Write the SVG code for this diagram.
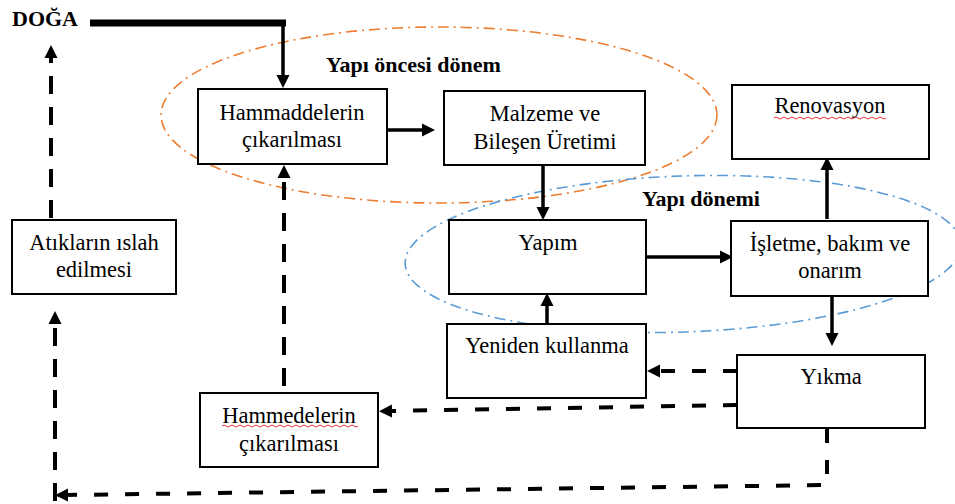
<svg xmlns="http://www.w3.org/2000/svg" width="955" height="504" viewBox="0 0 955 504">
<defs>
<style>
.box{fill:#fff;stroke:#000;stroke-width:2}
.t{font-family:'Liberation Serif','Times New Roman','DejaVu Serif',serif;font-size:22.5px;fill:#000;text-anchor:middle}
.b{font-family:'Liberation Serif','Times New Roman','DejaVu Serif',serif;font-size:22px;font-weight:bold;fill:#000}
.sol{fill:none;stroke:#000;stroke-width:3.5}
.dh{fill:none;stroke:#000;stroke-width:4;stroke-dasharray:14 17}
.dv{fill:none;stroke:#000;stroke-width:4;stroke-dasharray:18 13}
.eo{fill:none;stroke:#ED7D31;stroke-width:1.6;stroke-dasharray:11 5 2 5}
.eb{fill:none;stroke:#5B9BD5;stroke-width:1.6;stroke-dasharray:11 5 2 5}
.wave{fill:none;stroke:#e03030;stroke-width:1}
</style>
<marker id="ah" markerUnits="userSpaceOnUse" viewBox="0 0 14 14" markerWidth="14" markerHeight="14" refX="2" refY="7" orient="auto">
<path d="M0,0.5 L13,7 L0,13.5 Z" fill="#000"/>
</marker>
</defs>
<rect width="955" height="504" fill="#fff"/>

<g id="regions">
<ellipse class="eo" cx="439" cy="115" rx="278" ry="88"/>
<ellipse class="eb" cx="683" cy="254" rx="278" ry="78" transform="rotate(-2 683 254)"/>
<text class="b" x="326" y="72">Yapı öncesi dönem</text>
<text class="b" x="642" y="206">Yapı dönemi</text>
</g>

<g id="connectors">
<path d="M90,23 H286" stroke="#000" stroke-width="7" fill="none"/>
<path class="sol" d="M283,20 V77" marker-end="url(#ah)"/>
<path class="sol" d="M351,130 H424" marker-end="url(#ah)"/>
<path class="sol" d="M543,160 V209" marker-end="url(#ah)"/>
<path class="sol" d="M647,257 H722" marker-end="url(#ah)"/>
<path class="sol" d="M827,219 V168" marker-end="url(#ah)"/>
<path class="sol" d="M832,284 V335" marker-end="url(#ah)"/>
<path class="sol" d="M547,324 V304" marker-end="url(#ah)"/>
<path class="dh" d="M737,371 H658" marker-end="url(#ah)"/>
<path class="dh" d="M737,405 L390,411" marker-end="url(#ah)"/>
<path class="dv" d="M284,386 V176" marker-end="url(#ah)"/>
<path class="dh" d="M827,429 V485 L66,495" marker-end="url(#ah)"/>
<path class="dv" d="M55,501 V322" marker-end="url(#ah)"/>
<path class="dv" d="M51,218 V56" marker-end="url(#ah)"/>
</g>

<g id="doga">
<text class="b" x="12" y="26">DOĞA</text>
</g>

<g id="hammaddelerin">
<rect class="box" x="198" y="89" width="189" height="75"/>
<text class="t" x="292" y="120">Hammaddelerin</text>
<text class="t" x="292" y="147">çıkarılması</text>
</g>

<g id="malzeme">
<rect class="box" x="444" y="91" width="201" height="74"/>
<text class="t" x="545" y="121">Malzeme ve</text>
<text class="t" x="545" y="149">Bileşen Üretimi</text>
</g>

<g id="renovasyon">
<rect class="box" x="732" y="85" width="197" height="74"/>
<text class="t" x="830" y="113">Renovasyon</text>
<path class="wave" d="M774,118 q2,-2 4,0 t4,0 t4,0 t4,0 t4,0 t4,0 t4,0 t4,0 t4,0 t4,0 t4,0 t4,0 t4,0 t4,0 t4,0 t4,0 t4,0 t4,0 t4,0 t4,0 t4,0 t4,0 t4,0 t4,0 t4,0 t4,0 t4,0 t4,0"/>
</g>

<g id="yapim">
<rect class="box" x="449" y="220" width="197" height="74"/>
<text class="t" x="548" y="250">Yapım</text>
</g>

<g id="isletme">
<rect class="box" x="731" y="221" width="197" height="75"/>
<text class="t" x="830" y="251">İşletme, bakım ve</text>
<text class="t" x="830" y="278">onarım</text>
</g>

<g id="atiklar">
<rect class="box" x="12" y="220" width="164" height="74"/>
<text class="t" x="94" y="250">Atıkların ıslah</text>
<text class="t" x="94" y="277">edilmesi</text>
</g>

<g id="yeniden">
<rect class="box" x="447" y="324" width="199" height="74"/>
<text class="t" x="547" y="353">Yeniden kullanma</text>
</g>

<g id="yikma">
<rect class="box" x="737" y="355" width="188" height="73"/>
<text class="t" x="831" y="384">Yıkma</text>
</g>

<g id="hammedelerin">
<rect class="box" x="200" y="393" width="178" height="74"/>
<text class="t" x="289" y="423">Hammedelerin</text>
<path class="wave" d="M222,426 q2,-2 4,0 t4,0 t4,0 t4,0 t4,0 t4,0 t4,0 t4,0 t4,0 t4,0 t4,0 t4,0 t4,0 t4,0 t4,0 t4,0 t4,0 t4,0 t4,0 t4,0 t4,0 t4,0 t4,0 t4,0 t4,0 t4,0 t4,0 t4,0 t4,0 t4,0 t4,0 t4,0 t4,0 t4,0"/>
<text class="t" x="289" y="451">çıkarılması</text>
</g>
</svg>
